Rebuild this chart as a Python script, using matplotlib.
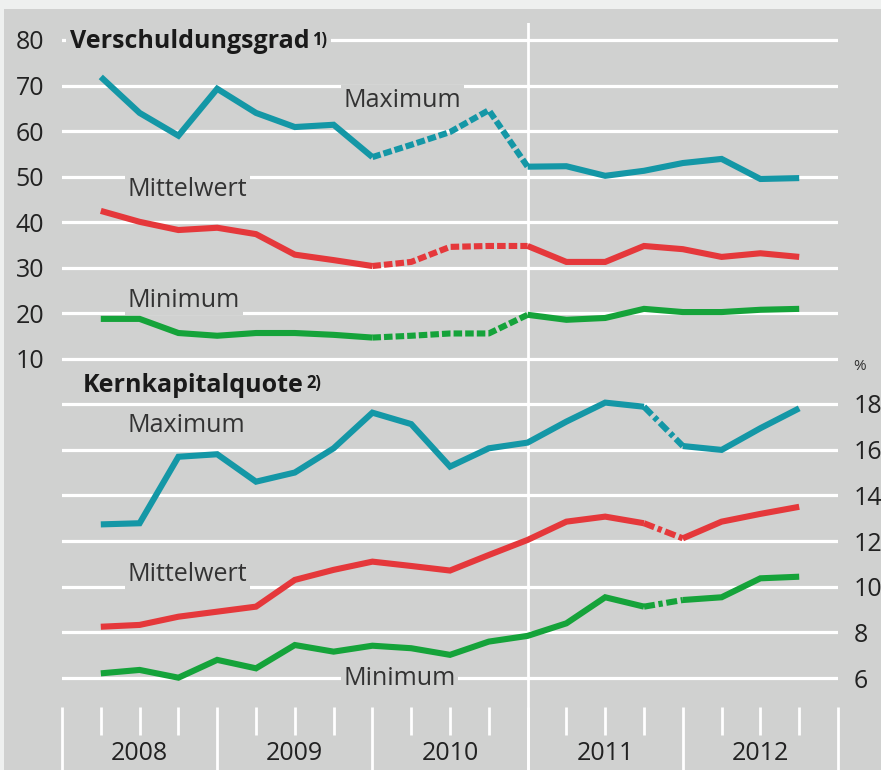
import matplotlib.pyplot as plt
import matplotlib.transforms as mtrans
from matplotlib.patches import Rectangle

plt.rcParams['font.family'] = ['Open Sans', 'DejaVu Sans']

# quarterly values, 2008 Q1 .. 2012 Q3
quarters = list(range(19))
years = ['2008', '2009', '2010', '2011', '2012']

# Verschuldungsgrad
vg_max = [71.9, 64.0, 59.0, 69.3, 64.0, 60.9, 61.4, 54.3, 57.0, 59.8,
          64.6, 52.2, 52.3, 50.2, 51.3, 53.0, 53.9, 49.5, 49.7]
vg_mean = [42.5, 40.1, 38.3, 38.8, 37.4, 32.9, 31.7, 30.4, 31.3, 34.6,
           34.8, 34.8, 31.3, 31.3, 34.8, 34.1, 32.4, 33.2, 32.4]
vg_min = [18.8, 18.8, 15.7, 15.1, 15.7, 15.7, 15.3, 14.7, 15.1, 15.6,
          15.6, 19.7, 18.6, 19.0, 21.0, 20.3, 20.3, 20.8, 21.0]

# Kernkapitalquote (%)
kk_max = [12.73, 12.78, 15.69, 15.80, 14.60, 15.00, 16.06, 17.62, 17.12, 15.26,
          16.06, 16.31, 17.23, 18.06, 17.88, 16.16, 15.99, 16.94, 17.81]
kk_mean = [8.25, 8.33, 8.69, 8.91, 9.13, 10.30, 10.74, 11.10, 10.91, 10.71,
           11.39, 12.05, 12.85, 13.07, 12.78, 12.12, 12.85, 13.19, 13.50]
kk_min = [6.21, 6.36, 6.02, 6.80, 6.43, 7.45, 7.16, 7.42, 7.31, 7.02,
          7.60, 7.85, 8.40, 9.54, 9.13, 9.42, 9.54, 10.37, 10.44]

teal = '#1497a6'
red = '#e5383b'
green = '#15a33a'
bg = '#d0d1d0'
W, H = 881, 770
split = 380  # pixel row where the two panels meet

fig = plt.figure(figsize=(W / 100, H / 100), dpi=100, facecolor='#eef0ef')

# gray background panel
ax0 = fig.add_axes([0, 0, 1, 1])
ax0.set_axis_off()
ax0.add_patch(Rectangle((4 / W, 0), 1, (H - 9) / H, transform=ax0.transAxes,
                        facecolor=bg, edgecolor='none'))

left, width = 62 / W, 776 / W
ax1 = fig.add_axes([left, (H - split) / H, width, (split - 23) / H])
ax2 = fig.add_axes([left, 0, width, (H - split) / H])
hb = H - split

for ax in (ax1, ax2):
    ax.set_facecolor('none')
    ax.set_xlim(-1, 19)
    for sp in ax.spines.values():
        sp.set_visible(False)
    ax.set_axisbelow(True)
    ax.grid(axis='y', color='white', linewidth=2.3)
    ax.set_xticks([])
    ax.tick_params(axis='y', length=0, labelsize=18, labelcolor='#222222')
    ax.axvline(11, color='white', linewidth=2.0, zorder=1)

ax1.set_ylim(5.39, 83.73)
ax1.set_yticks(range(10, 81, 10))
ax1.tick_params(axis='y', pad=13)

ax2.set_ylim(1.98, 19.05)
ax2.set_yticks(range(6, 19, 2))
ax2.yaxis.tick_right()
ax2.tick_params(axis='y', pad=11)
fig.text(853 / W, 1 - 366 / H, '%', fontsize=11, color='#333333',
         ha='left', va='center')

lw = 4.4
dash_top = (1.4, 0.5)
dash_bot = (1.8, 0.6, 0.7, 0.6)


def draw(ax, vals, color, a, b, dashes):
    ax.plot(quarters[:a + 1], vals[:a + 1], color=color, lw=lw,
            solid_joinstyle='miter', solid_capstyle='butt', zorder=2)
    ax.plot(quarters[a:b + 1], vals[a:b + 1], color=color, lw=lw,
            dashes=dashes, dash_capstyle='butt', zorder=2)
    ax.plot(quarters[b:], vals[b:], color=color, lw=lw,
            solid_joinstyle='miter', solid_capstyle='butt', zorder=2)


draw(ax1, vg_max, teal, 7, 11, dash_top)
draw(ax1, vg_mean, red, 7, 11, dash_top)
draw(ax1, vg_min, green, 7, 11, dash_top)
draw(ax2, kk_max, teal, 14, 15, dash_bot)
draw(ax2, kk_mean, red, 14, 15, dash_bot)
draw(ax2, kk_min, green, 14, 15, dash_bot)

box = dict(facecolor=bg, edgecolor='none', pad=2)


def label(ax, x, y, s):
    ax.text(x, y, s, fontsize=18, color='#333333', ha='left', va='center',
            bbox=box, zorder=3)


label(ax1, 6.25, 66.8, 'Maximum')
label(ax1, 0.70, 47.1, 'Mittelwert')
label(ax1, 0.70, 22.9, 'Minimum')
label(ax2, 0.70, 17.08, 'Maximum')
label(ax2, 0.70, 10.52, 'Mittelwert')
label(ax2, 6.25, 6.0, 'Minimum')


def title(ax, x, y, s, note):
    t = ax.text(x, y, s, fontsize=18, fontweight='bold', color='#1a1a1a',
                ha='left', va='center', bbox=dict(facecolor=bg, edgecolor='none', pad=3),
                zorder=3)
    ax.annotate(note, xy=(1, 0.95), xycoords=t, xytext=(2, 0),
                textcoords='offset points', fontsize=12, fontweight='bold',
                color='#1a1a1a', ha='left', va='top',
                bbox=dict(facecolor=bg, edgecolor='none', pad=3), zorder=3)


title(ax1, -0.8, 79.6, 'Verschuldungsgrad', '1)')
title(ax2, -0.46, 18.83, 'Kernkapitalquote', '2)')

# quarter ticks and year labels
tr = mtrans.blended_transform_factory(ax2.transData, ax2.transAxes)
short = [q for q in range(-1, 20) if (q + 1) % 4 != 0]
long_ = [q for q in range(-1, 20) if (q + 1) % 4 == 0]
ax2.vlines(short, (H - 735) / hb, (H - 707) / hb, transform=tr,
           color='white', lw=2.0, clip_on=False)
ax2.vlines(long_, 0, (H - 707) / hb, transform=tr,
           color='white', lw=2.0, clip_on=False)
for k, yr in enumerate(years):
    ax2.text(1 + 4 * k, (H - 753) / hb, yr, transform=tr, fontsize=18,
             color='#222222', ha='center', va='center')

fig.savefig('out.png', dpi=100, facecolor=fig.get_facecolor())
